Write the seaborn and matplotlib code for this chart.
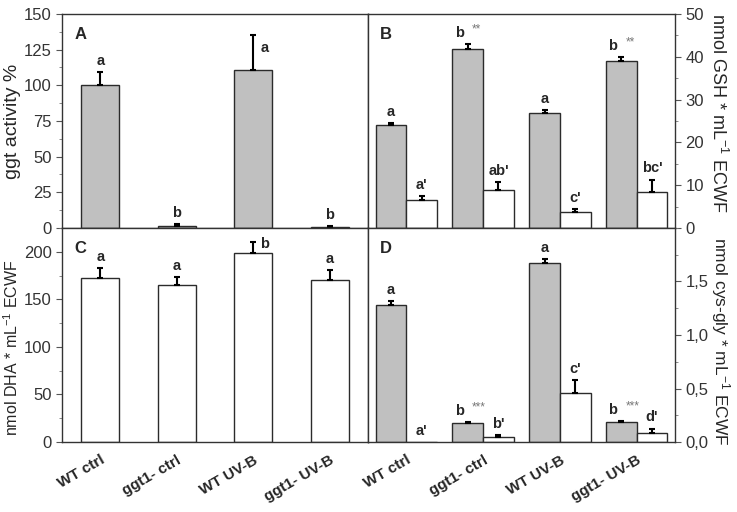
import numpy as np
import pandas as pd
import matplotlib
matplotlib.use("Agg")
import matplotlib.pyplot as plt
import seaborn as sns
from matplotlib.ticker import MultipleLocator, FuncFormatter

# data
categorias = ["WT ctrl", "ggt1- ctrl", "WT UV-B", "ggt1- UV-B"]

# A: ggt activity %
ggt_val = [100, 1.5, 111, 0.5]
ggt_err = [9, 1.2, 24, 0.6]
ggt_letras = ["a", "b", "a", "b"]

# B: GSH (grey = total, white = reduced)
gsh_cinza = [24.0, 41.8, 26.8, 39.0]
gsh_cinza_err = [0.5, 1.2, 0.7, 1.0]
gsh_branco = [6.5, 8.8, 3.7, 8.4]
gsh_branco_err = [1.0, 2.0, 0.8, 2.9]
gsh_letras_cinza = ["a", "b", "a", "b"]
gsh_estrelas = ["", "**", "", "**"]
gsh_letras_branco = ["a'", "ab'", "c'", "bc'"]

# C: DHA
dha_val = [172, 165, 199, 170]
dha_err = [11, 8, 11, 11]
dha_letras = ["a", "a", "b", "a"]

# D: cys-gly
cys_cinza = [1.28, 0.18, 1.67, 0.187]
cys_cinza_err = [0.04, 0.01, 0.04, 0.01]
cys_branco = [0.0, 0.047, 0.46, 0.087]
cys_branco_err = [0.0, 0.021, 0.116, 0.038]
cys_letras_cinza = ["a", "b", "a", "b"]
cys_estrelas = ["", "***", "", "***"]
cys_letras_branco = ["a'", "b'", "c'", "d'"]

COR_CINZA = "#c0c0c0"
COR_BRANCO = "#ffffff"
COR_BORDA = "#2b2b2b"

sns.set_style("ticks")
plt.rcParams["font.family"] = ["Liberation Sans", "DejaVu Sans"]
plt.rcParams["mathtext.default"] = "regular"
plt.rcParams["axes.linewidth"] = 1.0
plt.rcParams["axes.edgecolor"] = "#333333"

fig = plt.figure(figsize=(7.37, 5.12), dpi=100)
L, M, R = 0.0841, 0.4993, 0.9159
T, H, B = 0.9727, 0.5547, 0.1367
axA = fig.add_axes([L, H, M - L, T - H])
axB = fig.add_axes([M, H, R - M, T - H])
axC = fig.add_axes([L, B, M - L, H - B])
axD = fig.add_axes([M, B, R - M, H - B])


def barras_simples(ax, valores, erros, cor):
    df = pd.DataFrame({"trat": categorias, "val": valores})
    sns.barplot(data=df, x="trat", y="val", color=cor, width=0.5,
                edgecolor=COR_BORDA, linewidth=1, saturation=1, ax=ax)
    xs = [p.get_x() + p.get_width() / 2 for p in ax.patches]
    ax.errorbar(xs, valores, yerr=[np.zeros(4), erros], fmt="none",
                ecolor="black", elinewidth=1.5, capsize=2.5, capthick=1.5)
    return xs


def barras_pares(ax, cinza, cinza_err, branco, branco_err):
    df = pd.DataFrame({
        "trat": categorias * 2,
        "serie": ["cinza"] * 4 + ["branco"] * 4,
        "val": cinza + branco,
    })
    sns.barplot(data=df, x="trat", y="val", hue="serie",
                palette={"cinza": COR_CINZA, "branco": COR_BRANCO},
                width=0.8, edgecolor=COR_BORDA, linewidth=1, saturation=1,
                legend=False, ax=ax)
    xs = [p.get_x() + p.get_width() / 2 for p in ax.patches]
    xc, xb = xs[:4], xs[4:8]
    ax.errorbar(xc, cinza, yerr=[np.zeros(4), cinza_err], fmt="none",
                ecolor="black", elinewidth=1.5, capsize=2, capthick=1.5)
    mask = [e > 0 for e in branco_err]
    ax.errorbar([x for x, m in zip(xb, mask) if m],
                [v for v, m in zip(branco, mask) if m],
                yerr=[np.zeros(sum(mask)), [e for e, m in zip(branco_err, mask) if m]],
                fmt="none", ecolor="black", elinewidth=1.5, capsize=2, capthick=1.5)
    return xc, xb


def letra(ax, x, y, txt, dx=0, dy=3, ha="center"):
    ax.annotate(txt, (x, y), xytext=(dx, dy), textcoords="offset points",
                ha=ha, va="bottom", fontsize=10.5, fontweight="bold")


def estrela(ax, x, y, txt, dx=3, dy=6):
    ax.annotate(txt, (x, y), xytext=(dx, dy), textcoords="offset points",
                ha="left", va="bottom", fontsize=8.5, color="#777777")


# Panel A
xs = barras_simples(axA, ggt_val, ggt_err, COR_CINZA)
for i, (x, v, e, t) in enumerate(zip(xs, ggt_val, ggt_err, ggt_letras)):
    if i == 2:
        letra(axA, x, v + e, t, dx=8, dy=-14)
    else:
        letra(axA, x, v + e, t)
axA.set_ylim(0, 150)
axA.yaxis.set_major_locator(MultipleLocator(25))
axA.yaxis.set_minor_locator(MultipleLocator(12.5))
axA.set_ylabel("ggt activity %", fontsize=14, labelpad=2)

# Panel B
xc, xb = barras_pares(axB, gsh_cinza, gsh_cinza_err, gsh_branco, gsh_branco_err)
for i in range(4):
    topo = gsh_cinza[i] + gsh_cinza_err[i]
    if gsh_estrelas[i]:
        letra(axB, xc[i], topo, gsh_letras_cinza[i], dx=-6)
        estrela(axB, xc[i], topo, gsh_estrelas[i])
    else:
        letra(axB, xc[i], topo, gsh_letras_cinza[i])
    letra(axB, xb[i], gsh_branco[i] + gsh_branco_err[i], gsh_letras_branco[i])
axB.set_ylim(0, 50)
axB.yaxis.set_major_locator(MultipleLocator(10))
axB.yaxis.set_minor_locator(MultipleLocator(5))
axB.yaxis.tick_right()
axB.yaxis.set_label_position("right")
axB.set_ylabel("nmol GSH * mL$^{-1}$ ECWF", fontsize=13, rotation=270, labelpad=17)
axB.yaxis.label.set_y(0.54)

# Panel C
xs = barras_simples(axC, dha_val, dha_err, COR_BRANCO)
for i, (x, v, e, t) in enumerate(zip(xs, dha_val, dha_err, dha_letras)):
    if i == 2:
        letra(axC, x, v + e, t, dx=8, dy=-6)
    else:
        letra(axC, x, v + e, t)
axC.set_ylim(0, 225)
axC.set_yticks([0, 50, 100, 150, 200])
axC.yaxis.set_minor_locator(MultipleLocator(25))
axC.set_ylabel("nmol DHA * mL$^{-1}$ ECWF", fontsize=11.5, labelpad=2)
axC.yaxis.label.set_y(0.44)

# Panel D
xc, xb = barras_pares(axD, cys_cinza, cys_cinza_err, cys_branco, cys_branco_err)
for i in range(4):
    topo = cys_cinza[i] + cys_cinza_err[i]
    if cys_estrelas[i]:
        letra(axD, xc[i], topo, cys_letras_cinza[i], dx=-6)
        estrela(axD, xc[i], topo, cys_estrelas[i])
    else:
        letra(axD, xc[i], topo, cys_letras_cinza[i])
    letra(axD, xb[i], cys_branco[i] + cys_branco_err[i], cys_letras_branco[i])
axD.set_ylim(0, 2.0)
axD.set_yticks([0, 0.5, 1.0, 1.5])
axD.yaxis.set_minor_locator(MultipleLocator(0.25))
axD.yaxis.set_major_formatter(FuncFormatter(lambda v, p: f"{v:.1f}".replace(".", ",")))
axD.yaxis.tick_right()
axD.yaxis.set_label_position("right")
axD.set_ylabel("nmol cys-gly * mL$^{-1}$ ECWF", fontsize=12.5, rotation=270, labelpad=17)
axD.yaxis.label.set_y(0.47)

# common styling
for ax, letra_painel in zip([axA, axB, axC, axD], "ABCD"):
    ax.set_xlim(-0.5, 3.5)
    ax.set_xlabel("")
    for s in ax.spines.values():
        s.set_visible(True)
        s.set_color("#333333")
    ax.tick_params(axis="y", which="major", labelsize=12, labelcolor="#333333",
                   length=4, color="#555555")
    ax.tick_params(axis="y", which="minor", length=2, color="#777777")
    ax.text(0.04, 0.94, letra_painel, transform=ax.transAxes, fontsize=12,
            fontweight="bold", va="top")

for ax in [axA, axB]:
    ax.set_xticks(range(4))
    ax.tick_params(axis="x", length=0, labelbottom=False)

for ax in [axC, axD]:
    ax.set_xticks(range(4))
    ax.set_xticklabels(categorias, rotation=30, ha="right", rotation_mode="anchor",
                       fontsize=11, fontweight="bold")
    ax.tick_params(axis="x", length=0, pad=8)

fig.savefig("out.png", dpi=100)
